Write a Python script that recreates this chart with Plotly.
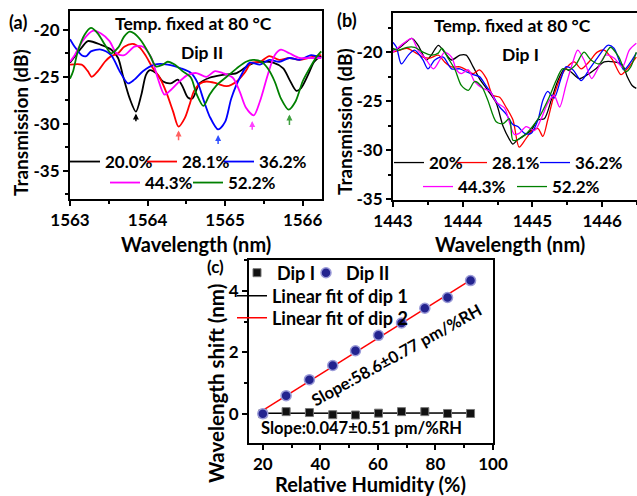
import numpy as np
import plotly.graph_objects as go

# ---------------- Panel (a): Dip II spectra ----------------
A_LABELS = ["20.0%", "28.1%", "36.2%", "44.3%", "52.2%"]
A_X = [
    [1563.0, 1563.15, 1563.23, 1563.40, 1563.53, 1563.62, 1563.68, 1563.77, 1563.85, 1563.92, 1563.98,
     1564.03, 1564.11, 1564.20, 1564.30, 1564.39, 1564.45, 1564.52, 1564.58, 1564.67, 1564.80, 1564.97,
     1565.15, 1565.32, 1565.47, 1565.62, 1565.75, 1565.83, 1565.92, 1565.98, 1566.07, 1566.15, 1566.24],
    [1563.0, 1563.15, 1563.23, 1563.28, 1563.36, 1563.45, 1563.53, 1563.62, 1563.70, 1563.81, 1563.90,
     1563.98, 1564.07, 1564.15, 1564.24, 1564.33, 1564.40, 1564.48, 1564.54, 1564.60, 1564.68, 1564.76,
     1564.89, 1565.02, 1565.15, 1565.25, 1565.34, 1565.45, 1565.57, 1565.70, 1565.83, 1565.96, 1566.07,
     1566.17, 1566.24],
    [1563.0, 1563.06, 1563.15, 1563.21, 1563.27, 1563.40, 1563.53, 1563.64, 1563.75, 1563.83, 1563.94,
     1564.09, 1564.26, 1564.43, 1564.56, 1564.65, 1564.72, 1564.80, 1564.91, 1565.00, 1565.08, 1565.19,
     1565.32, 1565.45, 1565.57, 1565.70, 1565.83, 1565.96, 1566.11, 1566.24],
    [1563.0, 1563.06, 1563.17, 1563.30, 1563.40, 1563.51, 1563.60, 1563.70, 1563.83, 1563.94, 1564.05,
     1564.13, 1564.22, 1564.30, 1564.41, 1564.52, 1564.63, 1564.76, 1564.87, 1564.97, 1565.10, 1565.19,
     1565.27, 1565.37, 1565.45, 1565.55, 1565.64, 1565.72, 1565.83, 1565.96, 1566.09, 1566.24],
    [1563.0, 1563.04, 1563.10, 1563.19, 1563.27, 1563.36, 1563.45, 1563.53, 1563.62, 1563.70, 1563.77,
     1563.83, 1563.92, 1564.03, 1564.11, 1564.20, 1564.26, 1564.35, 1564.45, 1564.56, 1564.63, 1564.72,
     1564.80, 1564.89, 1565.02, 1565.15, 1565.27, 1565.36, 1565.47, 1565.55, 1565.64, 1565.72, 1565.82,
     1565.91, 1566.00, 1566.09, 1566.17, 1566.24],
]
A_Y = [
    [-23.5, -21.9, -21.2, -21.6, -22.1, -23.0, -24.8, -27.3, -28.7, -26.9, -24.8,
     -24.3, -24.6, -25.5, -25.7, -25.3, -26.0, -27.2, -27.3, -25.7, -25.1, -24.8,
     -24.6, -23.7, -23.4, -23.5, -24.1, -25.3, -26.5, -26.2, -24.8, -23.4, -22.8],
    [-23.7, -23.7, -24.4, -25.0, -24.4, -23.4, -22.8, -22.5, -21.8, -21.5, -21.9,
     -22.8, -24.1, -25.0, -26.6, -28.7, -30.3, -29.4, -28.0, -26.5, -25.7, -25.5,
     -25.7, -26.0, -25.5, -24.6, -23.5, -23.4, -22.8, -23.2, -23.0, -23.2, -23.0,
     -22.8, -22.7],
    [-21.0, -21.8, -22.7, -22.8, -22.3, -22.1, -22.7, -24.4, -25.7, -25.3, -24.4,
     -23.7, -23.7, -24.1, -24.6, -25.7, -27.4, -29.2, -30.6, -29.8, -27.3, -25.1,
     -23.5, -23.7, -23.2, -23.4, -23.0, -23.2, -22.7, -23.0],
    [-23.4, -22.7, -21.1, -20.1, -20.4, -21.2, -22.5, -22.7, -21.8, -21.8, -23.0,
     -25.1, -26.9, -26.4, -25.5, -24.8, -24.6, -25.0, -24.4, -24.6, -25.1, -26.6,
     -28.3, -29.1, -27.6, -24.8, -22.7, -22.1, -22.5, -23.0, -23.0, -23.0],
    [-25.2, -24.4, -22.3, -20.5, -19.8, -20.4, -21.6, -22.5, -21.9, -20.7, -20.2,
     -20.4, -21.2, -22.7, -23.9, -23.7, -23.4, -23.7, -24.4, -25.1, -26.8, -28.1,
     -26.9, -25.9, -25.0, -24.1, -23.4, -23.2, -23.4, -24.1, -25.5, -27.3, -28.5,
     -27.6, -25.5, -24.1, -23.0, -22.3],
]
# arrows marking the tracked dip (head x, head y, tail y)
ARROW_X = [1563.85, 1564.40, 1564.91, 1565.35, 1565.83]
ARROW_HEAD = [-28.9, -30.7, -31.2, -29.7, -29.0]
ARROW_TAIL = [-29.9, -31.9, -32.3, -30.8, -30.3]

# ---------------- Panel (b): Dip I spectra ----------------
B_LABELS = ["20%", "28.1%", "36.2%", "44.3%", "52.2%"]
B_X = [
    [1443.0, 1443.08, 1443.17, 1443.27, 1443.36, 1443.48, 1443.55, 1443.65, 1443.74, 1443.84, 1443.96,
     1444.05, 1444.15, 1444.24, 1444.36, 1444.48, 1444.58, 1444.67, 1444.72, 1444.78, 1444.86, 1444.98,
     1445.08, 1445.17, 1445.27, 1445.36, 1445.46, 1445.55, 1445.67, 1445.79, 1445.91, 1446.03, 1446.17,
     1446.29, 1446.36, 1446.43, 1446.49],
    [1443.0, 1443.10, 1443.20, 1443.31, 1443.43, 1443.53, 1443.65, 1443.74, 1443.84, 1443.96, 1444.05,
     1444.15, 1444.24, 1444.34, 1444.43, 1444.53, 1444.62, 1444.72, 1444.81, 1444.91, 1445.00, 1445.08,
     1445.15, 1445.22, 1445.31, 1445.41, 1445.50, 1445.60, 1445.70, 1445.81, 1445.93, 1446.03, 1446.15,
     1446.27, 1446.36, 1446.49],
    [1443.0, 1443.05, 1443.12, 1443.22, 1443.31, 1443.43, 1443.50, 1443.60, 1443.72, 1443.84, 1443.96,
     1444.05, 1444.15, 1444.24, 1444.34, 1444.43, 1444.53, 1444.62, 1444.72, 1444.79, 1444.89, 1444.98,
     1445.08, 1445.15, 1445.22, 1445.31, 1445.41, 1445.48, 1445.58, 1445.70, 1445.81, 1445.93, 1446.08,
     1446.17, 1446.31, 1446.41, 1446.49],
    [1443.0, 1443.08, 1443.17, 1443.27, 1443.36, 1443.46, 1443.58, 1443.67, 1443.74, 1443.84, 1443.91,
     1443.98, 1444.08, 1444.17, 1444.29, 1444.39, 1444.48, 1444.60, 1444.68, 1444.74, 1444.81, 1444.91,
     1445.03, 1445.12, 1445.22, 1445.31, 1445.39, 1445.48, 1445.58, 1445.65, 1445.74, 1445.85, 1445.93,
     1446.05, 1446.17, 1446.29, 1446.39, 1446.49],
    [1443.0, 1443.08, 1443.20, 1443.31, 1443.43, 1443.55, 1443.65, 1443.70, 1443.79, 1443.89, 1443.98,
     1444.08, 1444.17, 1444.27, 1444.36, 1444.48, 1444.58, 1444.67, 1444.72, 1444.80, 1444.90, 1445.00,
     1445.10, 1445.24, 1445.34, 1445.43, 1445.53, 1445.62, 1445.74, 1445.84, 1445.96, 1446.08, 1446.12,
     1446.24, 1446.34, 1446.41, 1446.49],
]
B_Y = [
    [-19.8, -19.6, -19.1, -18.6, -19.3, -20.8, -20.3, -19.3, -20.0, -20.8, -20.3,
     -20.3, -21.5, -22.7, -23.9, -25.2, -27.6, -28.9, -29.4, -29.0, -28.6, -28.0,
     -26.9, -26.8, -24.9, -23.0, -21.7, -22.0, -22.7, -22.3, -21.7, -21.0, -21.0,
     -21.3, -22.5, -23.4, -23.7],
    [-20.0, -19.8, -19.6, -20.0, -20.5, -20.6, -20.3, -21.0, -21.5, -21.5, -21.8,
     -22.2, -21.8, -22.7, -24.4, -24.6, -25.6, -26.9, -29.7, -28.8, -28.0, -27.8,
     -28.6, -26.9, -24.4, -22.5, -21.5, -21.0, -21.7, -21.0, -20.0, -19.8, -20.8,
     -22.3, -21.7, -20.5],
    [-19.0, -19.5, -21.2, -20.3, -19.8, -20.8, -21.7, -20.8, -20.5, -21.7, -21.7,
     -22.0, -22.3, -22.5, -23.5, -24.4, -25.6, -26.3, -27.4, -27.6, -28.3, -28.3,
     -26.9, -24.9, -24.0, -24.7, -22.7, -21.5, -21.8, -22.9, -21.8, -20.6, -19.3,
     -19.6, -21.8, -21.0, -20.1],
    [-20.0, -19.5, -19.0, -18.6, -19.8, -20.6, -21.7, -20.8, -20.0, -20.5, -21.8,
     -22.2, -21.8, -23.0, -23.7, -24.0, -25.1, -25.7, -27.4, -28.4, -28.3, -27.6,
     -28.0, -26.9, -25.2, -24.4, -25.6, -23.4, -21.0, -19.8, -20.8, -22.7, -21.8,
     -20.3, -20.6, -21.5, -19.8, -19.1],
    [-19.6, -19.8, -19.5, -19.5, -20.0, -20.3, -20.1, -19.6, -20.6, -21.8, -23.4,
     -23.9, -23.0, -23.5, -24.9, -27.1, -27.3, -26.8, -29.0, -28.9, -28.4, -27.6,
     -26.6, -24.6, -22.9, -21.7, -21.8, -21.3, -20.0, -20.8, -21.2, -19.8, -19.5,
     -20.5, -22.0, -21.5, -20.0],
]

# ---------------- Panel (c): wavelength shift vs RH ----------------
RH = [20.0, 28.1, 36.2, 44.3, 52.2, 60.2, 68.2, 76.3, 84.2, 92.2]
SHIFT_DIP1 = [0.0, 0.07, 0.04, -0.03, -0.04, 0.02, 0.07, 0.07, 0.01, 0.01]
SHIFT_DIP2 = [0.0, 0.59, 1.11, 1.57, 2.05, 2.55, 2.95, 3.43, 3.78, 4.33]

COLORS = ["#000000", "#ff0000", "#0000ff", "#ff00ff", "#008000"]
ARROW_COLORS = ["#000000", "#ff6060", "#3050ff", "#ff40ff", "#40a040"]
FONT = "Lato"
W, H = 637, 496
LEG_TEXT_OFFSET = 40  # px from legend x to its text start (plotly: line 5..35, marker at 20, text at 40)

# legend text-start positions (px) for each entry
A_LEG = [(105, 162), (182, 162), (259, 162), (145, 183), (228, 183)]
B_LEG = [(429, 163), (492, 163), (575, 163), (458, 187), (552, 187)]

fig = go.Figure()
n_leg = 0
def next_leg():
    global n_leg
    n_leg += 1
    return "legend" if n_leg == 1 else "legend%d" % n_leg

legends = {}
def make_leg(name, text_x, y, size=17):
    legends[name] = dict(x=(text_x - LEG_TEXT_OFFSET) / W, y=1 - y / H, xanchor="left", yanchor="middle",
                         orientation="h", bgcolor="rgba(0,0,0,0)",
                         font=dict(family=FONT, size=size, color="black", weight="bold"),
                         itemwidth=30, itemclick=False, itemdoubleclick=False)

for i in range(5):
    lg = next_leg()
    make_leg(lg, *A_LEG[i])
    fig.add_trace(go.Scatter(
        x=A_X[i], y=A_Y[i], mode="lines", name=A_LABELS[i],
        line=dict(color=COLORS[i], width=1.8, shape="spline", smoothing=0.8),
        xaxis="x", yaxis="y", legend=lg))

for i in range(5):
    lg = next_leg()
    make_leg(lg, *B_LEG[i])
    fig.add_trace(go.Scatter(
        x=B_X[i], y=B_Y[i], mode="lines", name=B_LABELS[i],
        line=dict(color=COLORS[i], width=1.3, shape="spline", smoothing=0.8),
        xaxis="x2", yaxis="y2", legend=lg))

rh = np.array(RH)
p1 = np.polyfit(rh, np.array(SHIFT_DIP1), 1)
p2 = np.polyfit(rh, np.array(SHIFT_DIP2), 1)
fit_x = [rh.min(), rh.max()]

lg = next_leg(); make_leg(lg, 272, 296, 18)
fig.add_trace(go.Scatter(
    x=fit_x, y=list(np.polyval(p1, fit_x)), mode="lines", name="Linear fit of dip 1",
    line=dict(color="black", width=1.5), xaxis="x3", yaxis="y3", legend=lg))
lg = next_leg(); make_leg(lg, 272, 318, 18)
fig.add_trace(go.Scatter(
    x=fit_x, y=list(np.polyval(p2, fit_x)), mode="lines", name="Linear fit of dip 2",
    line=dict(color="#ff0000", width=1.5), xaxis="x3", yaxis="y3", legend=lg))
lg = next_leg(); make_leg(lg, 277, 273, 18)
fig.add_trace(go.Scatter(
    x=RH, y=SHIFT_DIP1, mode="markers", name="Dip I",
    marker=dict(symbol="square", size=8, color="#111111", line=dict(color="#777777", width=1)),
    xaxis="x3", yaxis="y3", legend=lg))
lg = next_leg(); make_leg(lg, 346, 273, 18)
fig.add_trace(go.Scatter(
    x=RH, y=SHIFT_DIP2, mode="markers", name="Dip II",
    marker=dict(symbol="circle", size=10, color="#23238f", line=dict(color="#9b9bd8", width=1.5)),
    xaxis="x3", yaxis="y3", legend=lg))

tickfont = dict(family=FONT, size=17, color="black", weight="bold")

def ax(domain, rng, tv, minor_dtick, minor_tick0, anchor):
    return dict(domain=domain, range=rng, anchor=anchor, automargin=False,
                tickmode="array", tickvals=tv,
                ticktext=[str(v) if v >= 0 else "-" + str(-v) for v in tv],
                showgrid=False, zeroline=False, showline=True, linewidth=2, linecolor="black",
                mirror=True, ticks="outside", ticklen=5, tickwidth=2, tickcolor="black",
                minor=dict(ticks="outside", ticklen=3, tickwidth=1.5, tickcolor="black",
                           dtick=minor_dtick, tick0=minor_tick0, showgrid=False),
                tickfont=tickfont)

def px(x0, x1):
    return [x0 / W, x1 / W]
def py(top, bottom):
    return [1 - bottom / H, 1 - top / H]

layout = dict(
    width=W, height=H, margin=dict(l=0, r=0, t=0, b=0, autoexpand=False),
    paper_bgcolor="white", plot_bgcolor="white", showlegend=True,
    xaxis=ax(px(70, 322), [1563, 1566.25], [1563, 1564, 1565, 1566], 0.5, 1563, "y"),
    yaxis=ax(py(11, 199), [-38, -18], [-20, -25, -30, -35], 2.5, -20, "x"),
    xaxis2=ax(px(393, 637), [1443, 1446.5], [1443, 1444, 1445, 1446], 0.5, 1443, "y2"),
    yaxis2=ax(py(13, 200), [-35.1, -16], [-20, -25, -30, -35], 2.5, -20, "x2"),
    xaxis3=ax(px(249, 493), [15.2, 100], [20, 40, 60, 80, 100], 10, 10, "y3"),
    yaxis3=ax(py(260, 443), [-0.95, 5], [0, 2, 4], 1, 0, "x3"),
)
layout.update(legends)
fig.update_layout(**layout)

annots = []
def note(text, x, y, size=17, xref="paper", yref="paper", angle=0):
    if xref == "paper":
        x = x / W
        y = 1 - y / H
    annots.append(dict(text=text, x=x, y=y, xref=xref, yref=yref, showarrow=False,
                       textangle=angle, font=dict(family=FONT, size=size, color="black", weight="bold"),
                       xanchor="center", yanchor="middle"))

note("(a)", 18, 22, 18)
note("Temp. fixed at 80 \u00b0C", 193, 23, 17.5)
note("Dip II", 202, 52, 17.5)
note("Transmission (dB)", 20, 123, 19, angle=-90)
note("Wavelength (nm)", 196, 244, 20)
note("(b)", 347, 20, 18)
note("Temp. fixed at 80 \u00b0C", 512, 25, 17.5)
note("Dip I", 520, 55, 17.5)
note("Transmission (dB)", 344, 122, 19, angle=-90)
note("Wavelength (nm)", 510, 244, 20)
note("(c)", 215, 266, 17)
note("Wavelength shift (nm)", 216, 384, 20.5, angle=-90)
note("Relative Humidity (%)", 370, 484, 20)
note("Slope:58.6\u00b10.77 pm/%RH", 66.5, 1.9, 16.5, "x3", "y3", -29)
note("Slope:0.047\u00b10.51 pm/%RH", 54.4, -0.46, 16.5, "x3", "y3", 0)

for i in range(5):
    annots.append(dict(x=ARROW_X[i], y=ARROW_HEAD[i], ax=ARROW_X[i], ay=ARROW_TAIL[i],
                       xref="x", yref="y", axref="x", ayref="y", text="", showarrow=True,
                       arrowhead=2, arrowsize=0.8, arrowwidth=1.5, arrowcolor=ARROW_COLORS[i]))

fig.update_layout(annotations=annots)
fig.write_html("out.html")
